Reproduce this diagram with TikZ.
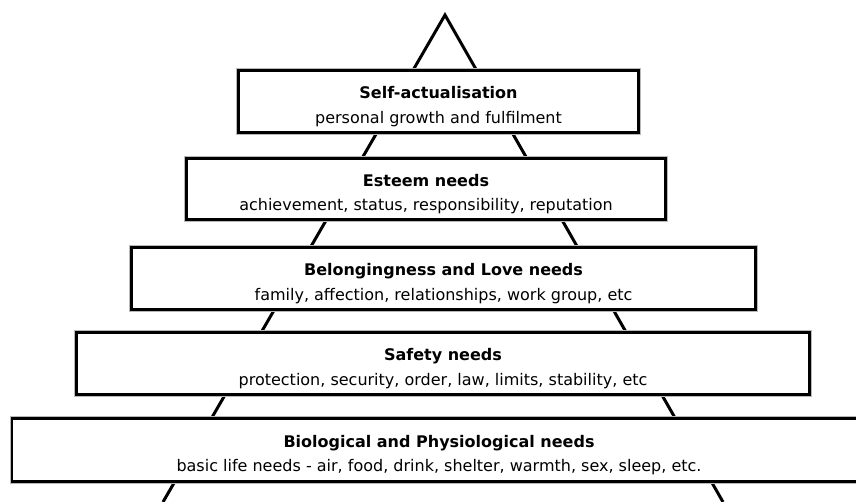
\documentclass[tikz,border=0pt]{standalone}
\usepackage{fontspec}
\setmainfont{DejaVu Sans}
\usepackage{tikz}
\newcommand{\lvl}[2]{\rule{0pt}{22pt}\textbf{#1}\\#2}

\begin{document}
\begin{tikzpicture}[x=1pt, y=1pt,
    level/.style={draw=black, line width=2.2pt, fill=white, rectangle, inner sep=0pt,
        preaction={draw=gray!55, line width=4.4pt},
        align=center, font=\fontsize{16}{24.5}\selectfont},
    side/.style={line width=3pt, line join=miter}]
    \useasboundingbox (0,0) rectangle (856,-502);
    \coordinate (apex) at (445,-15);
    \coordinate (BL) at (163,-502);
    \coordinate (BR) at (723,-502);
    \draw[side] (BL) -- (apex) -- (BR);
    \node[level, minimum width=400, minimum height=62] (SA) at (438.5,-101.5) {\lvl{Self-actualisation}{personal growth and fulfilment}};
    \node[level, minimum width=479, minimum height=61] (ES) at (426,-189) {\lvl{Esteem needs}{achievement, status, responsibility, reputation}};
    \node[level, minimum width=624, minimum height=62] (BE) at (443.5,-278.5) {\lvl{Belongingness and Love needs}{family, affection, relationships, work group, etc}};
    \node[level, minimum width=733, minimum height=62] (SN) at (443,-363.5) {\lvl{Safety needs}{protection, security, order, law, limits, stability, etc}};
    \node[level, minimum width=854, minimum height=63] (BN) at (439,-450) {\lvl{Biological and Physiological needs}{basic life needs - air, food, drink, shelter, warmth, sex, sleep, etc.}};
\end{tikzpicture}
\end{document}
